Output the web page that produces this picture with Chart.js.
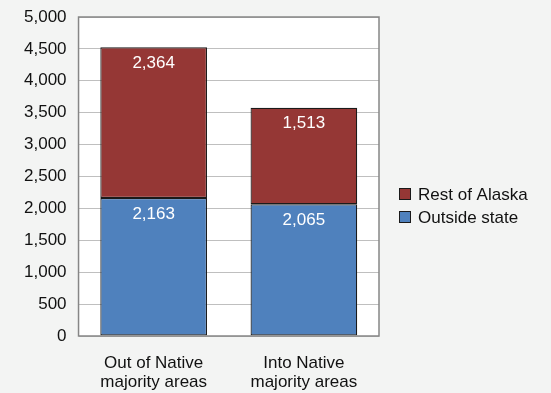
<!DOCTYPE html>
<html>
<head>
<meta charset="utf-8">
<script src="https://cdn.jsdelivr.net/npm/chart.js@4/dist/chart.umd.min.js"></script>
<style>
  html, body { margin: 0; padding: 0; background: #f3f4f3; }
  #wrap { width: 551px; height: 393px; }
</style>
</head>
<body>
<div id="wrap"><canvas id="chart" width="551" height="393"></canvas></div>
<script>
const categories = [["Out of Native", "majority areas"], ["Into Native", "majority areas"]];
const outsideState = [2163, 2065];
const restOfAlaska = [2364, 1513];
const seriesNames = ["Outside state", "Rest of Alaska"];

const FONT = "'Liberation Sans', Arial, sans-serif";
const fmt = (v) => v.toLocaleString("en-US");

// white plot background + frame
const plotFrame = {
  id: "plotFrame",
  beforeDraw(chart) {
    const { ctx, chartArea: a } = chart;
    ctx.save();
    ctx.fillStyle = "#ffffff";
    ctx.fillRect(a.left, a.top, a.right - a.left, a.bottom - a.top);
    ctx.restore();
  },
  afterDatasetsDraw(chart) {
    const { ctx, chartArea: a } = chart;
    ctx.save();
    ctx.strokeStyle = "#868686";
    ctx.lineWidth = 1.5;
    ctx.strokeRect(a.left, a.top, a.right - a.left, a.bottom - a.top);
    ctx.restore();
  },
};

// value labels near the top of each segment
const segmentLabels = {
  id: "segmentLabels",
  afterDatasetsDraw(chart) {
    const { ctx } = chart;
    ctx.save();
    ctx.fillStyle = "#ffffff";
    ctx.font = "17px " + FONT;
    ctx.textAlign = "center";
    ctx.textBaseline = "middle";
    chart.data.datasets.forEach((ds, i) => {
      chart.getDatasetMeta(i).data.forEach((bar, j) => {
        ctx.fillText(fmt(ds.data[j]), bar.x, bar.y + 16);
      });
    });
    ctx.restore();
  },
};

// legend drawn to the right of the plot, top series first
const sideLegend = {
  id: "sideLegend",
  afterDraw(chart) {
    const { ctx } = chart;
    const x = chart.chartArea.right + 20;
    let y = 194;
    ctx.save();
    ctx.font = "17px " + FONT;
    ctx.textBaseline = "middle";
    chart.data.datasets.slice().reverse().forEach((ds) => {
      ctx.fillStyle = ds.backgroundColor;
      ctx.fillRect(x, y - 6, 12, 12);
      ctx.strokeStyle = "#1a1a1a";
      ctx.lineWidth = 1;
      ctx.strokeRect(x + 0.5, y - 5.5, 11, 11);
      ctx.fillStyle = "#111";
      ctx.fillText(ds.label, x + 19, y + 1);
      y += 23;
    });
    ctx.restore();
  },
};

new Chart(document.getElementById("chart"), {
  type: "bar",
  data: {
    labels: categories,
    datasets: [
      {
        label: seriesNames[0],
        data: outsideState,
        backgroundColor: "#4f81bd",
        borderColor: "#1a1a1a",
        borderWidth: 1.2,
        borderSkipped: false,
      },
      {
        label: seriesNames[1],
        data: restOfAlaska,
        backgroundColor: "#953735",
        borderColor: "#1a1a1a",
        borderWidth: 1.2,
        borderSkipped: false,
      },
    ],
  },
  options: {
    responsive: false,
    animation: false,
    layout: { padding: { top: 0, right: 172, bottom: 0, left: 12 } },
    datasets: { bar: { barPercentage: 0.71, categoryPercentage: 1 } },
    scales: {
      x: {
        stacked: true,
        grid: { display: false, drawTicks: false },
        border: { display: false },
        afterFit: (scale) => { scale.height = 57; },
        ticks: {
          color: "#111",
          padding: 18,
          font: { family: FONT, size: 17, lineHeight: 1.12 },
          maxRotation: 0,
        },
      },
      y: {
        stacked: true,
        min: 0,
        max: 5000,
        grid: { color: "#bfbfbf", drawTicks: false },
        border: { display: false },
        afterFit: (scale) => { scale.paddingTop = 17; },
        ticks: {
          stepSize: 500,
          color: "#111",
          padding: 12,
          font: { family: FONT, size: 17 },
          callback: (v) => fmt(v),
        },
      },
    },
    plugins: {
      tooltip: { enabled: false },
      legend: { display: false },
    },
  },
  plugins: [plotFrame, segmentLabels, sideLegend],
});
</script>
</body>
</html>
